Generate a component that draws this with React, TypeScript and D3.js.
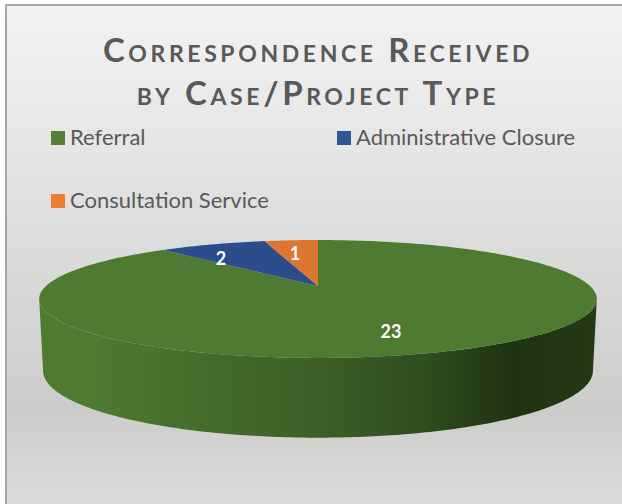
import React from "react";
import * as d3 from "d3";

const categories = ["Referral", "Administrative Closure", "Consultation Service"];
const values = [23, 2, 1];
const titleLines = ["Correspondence Received", "by Case/Project Type"];
const sliceColors = ["#4f7a32", "#2b4d8b", "#dd7631"];
const legendColors = ["#548235", "#2f5597", "#ed7d31"];
const font = "Lato, 'Open Sans', sans-serif";

const W = 622, H = 504;
const cx = 318, apexY = 286, R = 272, S = 56.1, k = 0.22;

// perspective projection of a tilted disc
const project = (a: number, f = 1, scaleX = 1, scaleY = 1, y0 = apexY): [number, number] => {
  const w = 1 + k * f * Math.cos(a);
  return [cx + (scaleX * R * f * Math.sin(a)) / w, y0 - (scaleY * S * f * Math.cos(a)) / w];
};

const pieAngles = d3.pie<number>().sort(null).value((d) => d)(values);
const line = d3.line();

const wedgePath = (a0: number, a1: number) => {
  const n = Math.max(2, Math.ceil((a1 - a0) / 0.02));
  const pts = d3.range(n + 1).map((i) => project(a0 + ((a1 - a0) * i) / n));
  return line([[cx, apexY], ...pts]) + "Z";
};

// side wall: from the left extreme through the front to the right extreme
const extreme = Math.acos(-k);
const sideY0 = 356, sideSy = 1.136, sideSx = 0.986;
const sidePath = () => {
  const n = 200;
  const angles = d3.range(n + 1).map((i) => extreme + ((2 * Math.PI - 2 * extreme) * i) / n);
  const top = angles.map((a) => project(a));
  const bottom = angles.map((a) => project(a, 1, sideSx, sideSy, sideY0)).reverse();
  return line([...top, ...bottom]) + "Z";
};

const labelPlace: [number, number][] = [[391, 331], [221, 258], [295, 253]];

export default function App() {
  return (
    <svg width={W} height={H} style={{ position: "absolute", left: 0, top: 0 }}>
      <defs>
        <linearGradient id="bg" x1="0" y1="0" x2="0" y2="1">
          <stop offset="0" stopColor="#f3f3f3" />
          <stop offset="0.8" stopColor="#cccccb" />
          <stop offset="1" stopColor="#dcdcdb" />
        </linearGradient>
        <linearGradient id="side" gradientUnits="userSpaceOnUse" x1="39" y1="0" x2="597" y2="0">
          <stop offset="0" stopColor="#4f7a32" />
          <stop offset="0.1" stopColor="#4f7a32" />
          <stop offset="0.3" stopColor="#456c2b" />
          <stop offset="0.5" stopColor="#3d5f26" />
          <stop offset="0.7" stopColor="#2f4c1d" />
          <stop offset="0.85" stopColor="#1f3312" />
          <stop offset="1" stopColor="#233a17" />
        </linearGradient>
      </defs>
      <rect x="0" y="0" width={W} height={H} fill="#ffffff" />
      <rect x="6" y="5" width={W} height={H} fill="url(#bg)" stroke="#a6a6a6" strokeWidth="2" />
      {titleLines.map((t, i) => (
        <text key={t} x={318} y={62 + i * 43} textAnchor="middle" fontFamily={font} fontWeight={700}
          fontSize={33} fill="#595959" letterSpacing={3.6} style={{ fontVariant: "small-caps" }}>
          {t}
        </text>
      ))}
      {categories.map((c, i) => {
        const x = i === 1 ? 337 : 51;
        const y = i === 2 ? 194 : 131;
        return (
          <g key={c}>
            <rect x={x} y={y} width={14} height={14} fill={legendColors[i]} />
            <text x={x + 19} y={y + 14} fontFamily={font} fontSize={22} fill="#595959">{c}</text>
          </g>
        );
      })}
      <path d={sidePath()} fill="url(#side)" />
      {pieAngles.map((p, i) => (
        <path key={categories[i]} d={wedgePath(p.startAngle, p.endAngle)} fill={sliceColors[i]} />
      ))}
      {values.map((v, i) => (
        <text key={i} x={labelPlace[i][0]} y={labelPlace[i][1]} textAnchor="middle" dominantBaseline="central"
          fontFamily={font} fontWeight={700} fontSize={18} fill="#ffffff">{v}</text>
      ))}
    </svg>
  );
}
